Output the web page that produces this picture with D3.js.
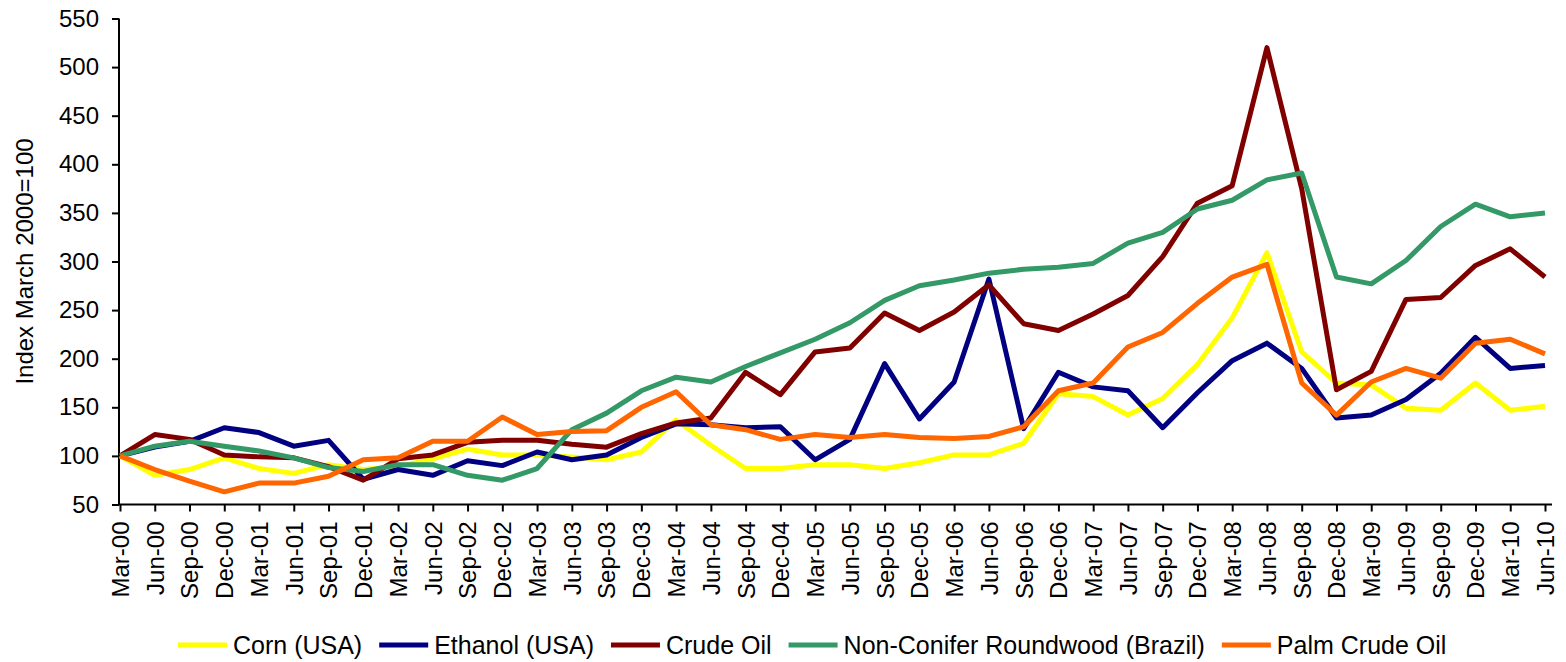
<!DOCTYPE html>
<html>
<head>
<meta charset="utf-8">
<script src="https://cdn.jsdelivr.net/npm/d3@7"></script>
<style>
  html, body { margin: 0; padding: 0; background: #fff; }
  svg { display: block; }
  text { font-family: "Liberation Sans", Arial, sans-serif; fill: #000; }
</style>
</head>
<body>
<svg id="chart" width="1566" height="662"></svg>
<script>
const categories = ["Mar-00","Jun-00","Sep-00","Dec-00","Mar-01","Jun-01","Sep-01","Dec-01",
  "Mar-02","Jun-02","Sep-02","Dec-02","Mar-03","Jun-03","Sep-03","Dec-03",
  "Mar-04","Jun-04","Sep-04","Dec-04","Mar-05","Jun-05","Sep-05","Dec-05",
  "Mar-06","Jun-06","Sep-06","Dec-06","Mar-07","Jun-07","Sep-07","Dec-07",
  "Mar-08","Jun-08","Sep-08","Dec-08","Mar-09","Jun-09","Sep-09","Dec-09",
  "Mar-10","Jun-10"];

const yTicks = [50, 100, 150, 200, 250, 300, 350, 400, 450, 500, 550];

const seriesNames = ["Corn (USA)", "Ethanol (USA)", "Crude Oil", "Non-Conifer Roundwood (Brazil)", "Palm Crude Oil"];
const seriesColors = ["#FFFF00", "#000080", "#800000", "#339966", "#FF6600"];

const corn = [100, 80, 86, 98, 87, 82, 91, 86, 89, 97, 107, 101, 101, 99, 96, 104,
  137, 111, 87, 87, 91, 91, 87, 93, 101, 101, 113, 164, 161, 142, 159, 194,
  242, 309, 207, 175, 173, 149, 147, 175, 147, 151];
const ethanol = [100, 109, 115, 129, 124, 110, 116, 76, 86, 80, 95, 90, 104, 96, 101, 119,
  133, 132, 129, 130, 96, 117, 195, 138, 176, 282, 128, 186, 171, 167, 129, 165,
  198, 216, 190, 139, 142, 158, 185, 222, 190, 193];
const crudeOil = [100, 122, 117, 101, 99, 98, 89, 75, 97, 101, 114, 116, 116, 112, 109, 123,
  134, 139, 186, 163, 207, 211, 247, 229, 248, 276, 236, 229, 246, 265, 305, 360,
  378, 520, 375, 168, 187, 261, 263, 296, 313, 284];
const roundwood = [100, 110, 115, 110, 105, 98, 88, 84, 91, 91, 80, 75, 87, 127, 144, 167,
  181, 176, 192, 206, 220, 237, 260, 275, 281, 288, 292, 294, 298, 319, 330, 354,
  363, 384, 391, 284, 277, 301, 336, 359, 346, 350];
const palmOil = [100, 86, 74, 63, 72, 72, 79, 96, 98, 115, 115, 140, 122, 125, 126, 150,
  166, 132, 127, 117, 122, 119, 122, 119, 118, 120, 130, 167, 175, 212, 227, 257,
  284, 297, 175, 142, 176, 190, 180, 216, 220, 205];

const seriesValues = [corn, ethanol, crudeOil, roundwood, palmOil];

const svg = d3.select("#chart");
const FONT = 24;
const LEGEND_FONT = 25;

const x = d3.scalePoint().domain(categories).range([120, 1545]);
const y = d3.scaleLinear().domain([50, 550]).range([504.5, 18.5]);

// Y axis
const yAxis = svg.append("g")
  .attr("transform", "translate(119,0)")
  .call(d3.axisLeft(y).tickValues(yTicks).tickSize(7).tickSizeOuter(0).tickPadding(13).tickFormat(d3.format("d")));
yAxis.select(".domain").remove();
yAxis.selectAll(".tick line").attr("stroke", "#000").attr("stroke-width", 2);
yAxis.selectAll("text").style("font-size", FONT + "px").attr("fill", "#000");
yAxis.append("line").attr("x1", 0).attr("x2", 0).attr("y1", y(550)).attr("y2", y(50))
  .attr("stroke", "#000").attr("stroke-width", 2);

// Y title
svg.append("text")
  .attr("transform", "translate(25," + ((y(550) + y(50)) / 2) + ") rotate(-90)")
  .attr("text-anchor", "middle")
  .attr("dy", "0.35em")
  .style("font-size", FONT + "px")
  .text("Index March 2000=100");

// X axis
const xAxis = svg.append("g")
  .attr("transform", "translate(0," + y(50) + ")")
  .call(d3.axisBottom(x).tickSize(7).tickSizeOuter(0));
xAxis.select(".domain").remove();
xAxis.selectAll(".tick line").attr("stroke", "#000").attr("stroke-width", 2);
xAxis.selectAll("text")
  .style("font-size", FONT + "px")
  .attr("fill", "#000")
  .attr("transform", "rotate(-90)")
  .attr("text-anchor", "end")
  .attr("x", -17)
  .attr("y", 0)
  .attr("dy", "0.35em");
xAxis.append("line").attr("x1", 119).attr("x2", 1552).attr("y1", 0).attr("y2", 0)
  .attr("stroke", "#000").attr("stroke-width", 2);

// Lines
const line = d3.line()
  .x((d, i) => x(categories[i]))
  .y(d => y(d));

svg.append("g").selectAll("path")
  .data(seriesValues)
  .join("path")
  .attr("d", d => line(d))
  .attr("fill", "none")
  .attr("stroke", (d, i) => seriesColors[i])
  .attr("stroke-width", 5)
  .attr("stroke-linejoin", "round");

// Legend
const legend = svg.append("g").attr("transform", "translate(178,645)");
let lx = 0;
seriesNames.forEach((name, i) => {
  const g = legend.append("g").attr("transform", "translate(" + lx + ",0)");
  g.append("line").attr("x1", 0).attr("x2", 49).attr("y1", 0).attr("y2", 0)
    .attr("stroke", seriesColors[i]).attr("stroke-width", 5);
  const t = g.append("text").attr("x", 55).attr("dy", "0.35em")
    .style("font-size", LEGEND_FONT + "px").text(name);
  lx += 55 + t.node().getComputedTextLength() + 17;
});
</script>
</body>
</html>
